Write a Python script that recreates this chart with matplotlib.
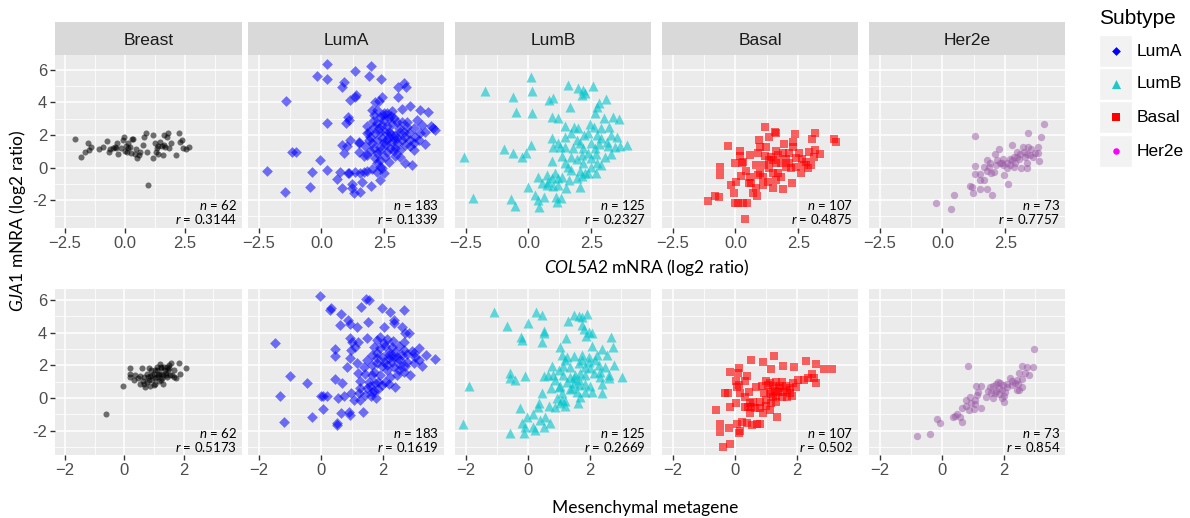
import matplotlib
matplotlib.use("Agg")
import matplotlib.pyplot as plt
from matplotlib.patches import Rectangle

plt.rcParams['font.family'] = ['Liberation Sans', 'DejaVu Sans']
plt.rcParams['mathtext.fontset'] = 'custom'
plt.rcParams['mathtext.rm'] = 'Lato'
plt.rcParams['mathtext.it'] = 'Lato:italic'

# ---- data (x, y per panel) ----
subtypes = ["Breast", "LumA", "LumB", "Basal", "Her2e"]
top_n = [62, 183, 125, 107, 73]
top_r = ["0.3144", "0.1339", "0.2327", "0.4875", "0.7757"]
bot_n = [62, 183, 125, 107, 73]
bot_r = ["0.5173", "0.1619", "0.2669", "0.502", "0.854"]

# top row: COL5A2 vs GJA1
breast_top_x = [-2.08, -1.82, -1.67, -1.53, -1.49, -1.43, -1.07, -0.93, -0.74, -0.65, -0.63, -0.49, -0.37, -0.32,
                -0.28, -0.18, -0.10, -0.04, 0.0, 0.04, 0.14, 0.21, 0.24, 0.28, 0.35, 0.40, 0.46, 0.49, 0.56, 0.74,
                0.79, 0.88, 0.90, 0.97, 1.15, 1.18, 1.25, 1.29, 1.35, 1.39, 1.46, 1.53, 1.57, 1.60, 1.63, 1.68,
                1.74, 1.78, 1.81, 2.13, 2.26, 2.29, 2.36, 2.43, 2.54, 2.67, -0.42, 0.14, 0.63, 1.32, 1.90, 0.07]
breast_top_y = [1.73, 0.63, 0.97, 1.53, 1.08, 1.28, 1.12, 1.24, 1.63, 0.97, 1.12, 1.18, 1.22, 1.53,
                0.81, 1.22, 1.69, 1.86, 1.04, 1.32, 1.53, 1.28, 0.87, 1.73, 1.73, 0.81, 1.14, 0.56, 0.79, 1.38,
                1.90, 2.10, 0.97, -1.08, 2.00, 0.56, 1.49, 0.97, 1.34, 0.83, 1.59, 1.32, 0.77, 2.02, 1.38, 1.24,
                1.86, 2.10, 1.22, 0.75, 2.10, 1.59, 1.69, 1.18, 1.14, 1.28, 1.28, 1.18, 0.97, 1.18, 1.49, 0.97]

luma_top_x = [0.20, 1.35, 1.98, -0.17, 0.22, 1.88, 2.37, 0.89, 0.81, 3.29, 3.03, 3.36, -1.39, 1.39, 1.35, 1.12,
              2.41, 2.28, 2.14, 3.04, 2.01, 3.50, 3.20, 3.93, 4.22, 1.04, 1.08, 0.99, 0.22, 2.21, 2.50, 2.61,
              2.77, 2.87, 2.34, 2.45, 2.67, 2.05, 2.21, 2.41, 2.61, 2.80, 3.00, 1.81, 3.40, 3.66, 3.80, 3.99,
              4.35, 4.52, 4.43, 4.13, 3.93, 4.13, 3.73, 3.66, 3.66, 3.86, 3.53, 3.33, 3.13, 2.94, 2.74, 2.54,
              2.34, 2.14, 1.94, 1.79, 1.88, 2.01, 2.21, 2.41, 2.61, 2.80, 3.00, 3.20, 3.33, 3.13, 2.94, 2.74,
              2.54, 2.34, 1.15, 1.48, 0.82, 0.91, 1.48, 1.81, 2.21, 2.14, 2.21, 2.34, 2.54, 2.67, 2.94, 3.13,
              3.33, 3.60, -1.16, -1.03, -0.04, -2.18, -0.38, 0.22, 1.04, 1.08, 1.35, 1.55, 1.68, 1.81, 2.01,
              2.21, 2.41, 2.47, 0.60, 1.22, 1.61, 1.97, 2.34, -0.44, 0.82, 1.22, 1.31, 1.52, -1.43,
              2.08, 2.28, 2.48, 2.67, 2.87, 3.07, 3.27, 3.47, 2.34, 2.50, 2.67, 2.08, 1.94, 2.87, 3.00, 3.53,
              3.40, 2.80, 2.08, 1.88, 1.48, 1.75, 1.68, 1.00, 0.75, 2.34, 2.60, 3.20]
luma_top_y = [6.35, 5.96, 6.25, 5.63, 5.43, 5.63, 5.47, 5.28, 4.97, 5.18, 4.93, 4.93, 4.11, 4.46, 4.36, 4.15,
              4.36, 4.11, 4.05, 4.36, 3.54, 3.78, 3.58, 3.54, 3.42, 3.13, 2.92, 2.76, 2.76, 3.54, 3.37, 3.33,
              3.17, 3.03, 3.09, 3.23, 3.03, 2.88, 2.72, 2.62, 2.55, 2.68, 2.82, 2.55, 2.51, 2.41, 2.92, 2.62,
              2.55, 2.31, 2.41, 2.21, 2.10, 1.45, 1.90, 1.49, 1.08, 1.69, 1.69, 1.90, 2.21, 2.00, 2.10, 2.21,
              2.21, 2.10, 1.90, 2.10, 1.69, 1.49, 1.69, 1.79, 1.69, 1.59, 1.49, 1.69, 1.38, 1.08, 1.18, 1.18,
              1.38, 1.28, 1.69, 1.49, 1.36, 0.87, 0.97, 0.77, 0.87, 0.56, 0.26, 0.46, 0.67, 0.36, 0.71, 0.67,
              0.26, 0.15, 0.97, 0.97, 0.46, -0.22, -0.26, -0.15, -0.32, -0.32, -0.26, -0.32, -0.26, -0.19, -0.11,
              -0.26, -0.05, -0.36, -0.73, -1.02, -0.87, -1.12, -0.77, -1.22, -1.28, -1.28, -1.55, -1.49, -1.53,
              3.20, 2.40, 2.90, 2.20, 1.80, 2.40, 2.20, 2.10, 1.00, 1.60, 1.90, 1.20, 1.00, 1.00, 1.80, 1.30,
              2.80, 3.50, 2.50, 2.20, 1.60, 1.30, 0.70, 1.30, -0.25, 0.05, 0.95, 2.80]

lumb_top_x = [0.11, -1.74, -0.63, 0.16, -0.50, 0.16, 1.58, 1.95, 2.17, 2.13, 2.24, 2.57, 3.09, 2.79, 2.74, 0.82,
              0.99, 1.64, 0.92, 1.16, 1.47, 1.82, 2.63, 2.99, 3.36, 3.58, 2.61, 2.89, 3.22, 1.71, 2.21, 2.37,
              2.74, 3.53, 3.92, 0.92, 0.96, 1.25, 1.47, 1.78, 2.04, 2.50, 2.79, 3.13, 3.45, 3.63, -0.99, -0.63,
              -0.26, -0.11, 0.11, -2.55, 0.95, 1.34, 1.71, 2.11, 2.37, 2.70, 3.03, 3.29, 1.45, 1.68, 2.04, 2.24,
              2.50, 2.74, 2.89, 0.37, 0.72, 0.92, 1.16, 1.34, 1.61, 1.91, 2.11, 0.00, 0.53, 0.72, 0.99, 1.18,
              1.51, 2.04, 0.26, 0.39, 0.42, 0.63, 1.08, 1.29, 1.12, -2.21, -0.68, -0.55,
              1.91, 2.17, 2.63, 2.89, 2.50, 1.91, 2.17, 2.70, 2.37, 1.58, 1.05, 0.79, 1.45, 1.97, 2.43, 3.16,
              3.29, 1.18]
lumb_top_y = [5.55, 4.73, 4.32, 4.73, 3.44, 3.33, 5.08, 4.87, 4.77, 4.46, 4.56, 5.02, 4.19, 3.95, 3.70, 4.15,
              4.26, 3.74, 3.09, 3.03, 2.55, 2.51, 3.33, 3.03, 3.09, 2.98, 2.51, 2.41, 2.51, 2.10, 2.00, 2.10,
              2.00, 1.90, 1.38, 1.79, 1.28, 1.28, 1.28, 1.18, 1.49, 1.49, 1.45, 1.59, 1.28, 1.32, 1.12, 0.87,
              0.67, 0.91, 1.38, 0.63, 0.42, 0.71, 0.67, 0.77, 0.87, 0.83, 0.67, 0.83, 0.26, -0.15, -0.19, -0.36,
              0.05, 0.26, 0.15, -0.56, -0.46, -0.67, -0.67, -0.56, -0.77, -0.67, -0.52, -1.22, -0.97, -1.08, -1.14, -1.08,
              -1.28, -1.18, -1.69, -2.00, -2.45, -1.79, -1.83, -1.90, -2.10, -1.90, -1.96, -2.37,
              1.70, 1.20, 1.20, 1.80, 0.60, 0.50, 0.30, -0.36, -0.36, 0.05, -0.36, -0.87, 1.90, 2.40, 2.70, 1.30,
              2.00, 1.50]

basal_top_x = [1.19, 1.58, 1.62, 1.32, 0.93, 2.37, 3.15, 3.05, 1.94, 2.28, 3.90, 3.99, -0.29, 0.17, 0.56, 0.17,
               -0.03, 0.30, 0.89, 1.19, 1.41, 1.50, 1.71, 2.00, 2.13, 2.39, 2.66, 2.79, 3.02, 3.12, 3.34, -0.62,
               -0.62, 0.20, 0.41, 0.80, 0.96, 0.89, 1.15, 1.35, 1.50, 1.71, 1.81, 2.00, 2.20, 2.39, 2.59, 2.89,
               -0.16, -0.07, 0.54, 0.63, 0.80, 1.09, 1.50, 1.87, 2.24, -0.81, -0.64, -1.11, -0.03, 0.10, 0.30,
               0.46, 0.85, 0.37,
               1.35, 1.61, 1.81, 1.87, 2.13, 2.52, 2.72, 0.56, 0.24, 1.09, 1.61, 1.28, 0.96, 1.61, 2.92, 3.18,
               2.28, 0.04, 0.69, 1.22]
basal_top_y = [2.51, 2.21, 2.10, 1.86, 1.69, 2.06, 2.10, 1.73, 1.45, 1.59, 1.73, 1.59, 1.32, 1.04, 0.77, 0.71,
               0.30, 0.36, 0.87, 0.71, 0.67, 0.46, 0.77, 0.50, 0.26, 0.56, 0.50, 0.36, 0.15, 0.67, 0.83, 0.05,
               -0.46, -0.52, -0.19, 0.15, -0.32, -0.46, 0.15, -0.05, -0.36, -0.36, -0.56, 0.05, -0.05, 0.05, -0.36, -0.05,
               -1.08, -1.55, -0.93, -0.93, -1.28, -1.08, -1.28, -1.34, -0.97, -1.75, -1.83, -2.04, -2.16, -2.21, -2.16,
               -2.16, -1.75, -3.19,
               0.46, 0.26, 0.26, 0.87, 0.87, 0.87, 0.15, -0.56, 0.26, -0.56, -0.77, -0.87, 1.28, 1.00, 0.97, 1.08,
               1.28, -0.87, -1.59, 1.28]

her2e_top_x = [4.02, 3.40, 3.90, 1.31, 2.75, 3.21, 3.80, 2.09, 2.26, 1.77, 1.83, 2.13, 2.36, 2.55, 2.75, 2.95,
               3.08, 3.23, 3.34, 3.47, 3.60, 3.84, 3.36, 3.14, 3.36, 2.84, 2.55, 2.40, 1.31, 1.31, 1.48, 1.77,
               2.03, 2.45, 1.48, 1.64, 1.92, 2.62, 1.09, 1.18, 1.48, 1.77, 1.96, 1.22, 0.46, -0.26, 0.35,
               2.68, 2.88, 3.04, 2.42, 3.27, 3.53, 3.66, 3.40, 2.29, 2.68, 1.66, 2.16, 1.90, 2.95, 2.84, 3.80]
her2e_top_y = [2.68, 2.10, 1.90, 1.94, 1.38, 1.28, 1.24, 0.83, 1.12, 0.46, 0.05, 0.15, 0.26, 0.30, 0.46, 0.63,
               0.83, 0.97, 0.83, 0.77, 0.67, 0.42, 0.26, -0.05, -0.05, 0.05, -0.05, 0.15, 0.09, -0.40, -0.40, -0.19,
               -0.26, -0.46, -0.77, -0.77, -0.36, -1.02, -1.14, -1.18, -1.34, -1.34, -1.69, -1.59, -1.69, -2.16, -2.57,
               0.50, 0.26, 0.50, 0.50, 0.67, 1.12, 0.87, 1.28, 0.26, 0.15, 0.05, 0.46, 0.30, 0.97, 0.67, 0.91]

# bottom row: mesenchymal metagene vs GJA1
breast_bot_x = [-0.61, -0.05, 0.20, 0.20, 0.20, 0.37, 0.45, 0.60, 0.66, 0.68, 0.71, 0.77, 0.83, 0.86, 0.88, 0.94,
                1.00, 1.02, 1.05, 1.11, 1.13, 1.17, 1.20, 1.22, 1.25, 1.28, 1.30, 1.34, 1.36, 1.39, 1.43, 1.45,
                1.47, 1.51, 1.54, 1.59, 1.62, 1.68, 1.73, 1.85, 1.88, 2.07, 0.52, 0.32, 0.75, 0.91, 0.83, 1.09,
                1.31, 1.17, 1.00, 0.54, 0.94, 1.11, 1.42, 1.51, 1.25, 0.63, 0.79, 1.05, 1.68, 1.22]
breast_bot_y = [-0.96, 0.74, 1.84, 1.49, 1.25, 1.39, 1.19, 1.80, 1.29, 0.84, 0.68, 0.98, 1.82, 1.33, 0.72, 1.12,
                1.49, 1.19, 0.88, 1.70, 1.39, 1.04, 2.06, 1.90, 1.49, 1.19, 0.88, 1.92, 1.70, 1.39, 1.25, 1.90,
                1.70, 2.00, 1.39, 2.13, 1.39, 1.29, 1.19, 2.13, 1.45, 1.80, 1.33, 1.08, 1.49, 1.70, 1.08, 1.92,
                1.39, 1.49, 0.78, 0.88, 1.39, 1.25, 1.53, 1.80, 1.80, 1.04, 1.25, 1.70, 1.70, 1.08]

luma_bot_x = [-0.02, 0.32, 0.30, 1.47, 1.55, 1.30, 0.64, 1.97, 2.24, 2.69, 1.51, 0.87, 0.94, 0.62, 1.17, 2.35,
              2.37, 2.03, 2.61, 2.72, 2.83, -1.47, 0.45, 0.45, 0.94, 1.01, 1.19, 1.49, 1.81, 1.92, 2.15, 2.32,
              2.69, 1.71, 1.90, 2.08, 2.29, 2.51, 2.67, 2.77, 2.93, 3.18, 3.04, 3.15, 3.25, 3.39, 3.68, 1.81,
              2.00, 2.19, 2.37, 2.54, 0.94, 1.17, 0.85, 1.41, 1.65, 1.81, 1.97, 2.13, 2.35, 2.51, 2.69, 2.88,
              2.72, 1.19, 1.44, 1.65, 1.92, 2.24, 2.45, -0.98, -0.45, 0.45, 0.69, 1.28, 1.55, 1.76, 1.97, 2.21,
              2.40, 1.49, 1.71, 1.83, -1.30, 0.00, 0.09, 0.19, 0.09, 0.55, 0.75, 0.98, 1.23, 1.44, 1.62, 1.79,
              1.07, 1.28, 1.65, 0.64, 0.91, 1.37, 0.94, -0.27, -1.17, 0.53, 0.51,
              2.03, 2.19, 2.40, 2.03, 2.29, 2.13, 1.81, 1.65, 2.56, 2.77, 2.99, 2.08, 1.86, 1.60, 1.28, 2.19,
              2.45, 2.61, 2.99, 1.71, 1.49, 1.12, 0.96]
luma_bot_y = [6.25, 5.49, 5.39, 6.04, 6.00, 5.59, 5.14, 5.49, 5.28, 5.39, 4.67, 4.77, 4.53, 4.47, 4.36, 4.77,
              4.61, 4.36, 4.36, 4.00, 4.00, 3.34, 2.97, 2.56, 3.65, 3.44, 3.44, 3.65, 3.55, 3.71, 3.59, 3.51,
              3.44, 3.14, 3.03, 3.18, 3.10, 3.18, 2.93, 2.69, 2.89, 3.03, 2.52, 2.32, 1.95, 2.63, 2.36, 2.73,
              2.52, 2.42, 2.52, 2.32, 2.42, 2.11, 1.91, 1.87, 2.01, 2.11, 1.95, 1.71, 1.87, 1.71, 1.60, 1.40,
              1.95, 1.50, 1.46, 1.40, 1.40, 1.30, 1.40, 1.34, 0.89, 1.13, 0.89, 1.05, 0.99, 0.89, 0.79, 0.85,
              0.68, 0.58, 0.43, 0.52, 0.10, 0.10, 0.10, 0.10, -0.66, 0.00, 0.14, 0.29, 0.29, 0.18, 0.14, 0.02,
              -0.16, -0.10, 0.39, -0.95, -0.85, -0.85, -1.05, -1.16, -1.46, -1.57, -1.67,
              3.34, 2.84, 2.84, 2.21, 2.21, 2.00, 2.42, 2.63, 2.00, 2.21, 2.11, 1.00, 1.00, 0.70, 0.60, 2.63,
              2.52, 2.63, 2.73, 1.60, 2.32, 3.14, 2.93]

lumb_bot_x = [-1.08, 0.26, 0.45, -0.68, 0.00, 0.54, 0.51, -0.22, -0.19, 0.47, 1.29, 1.48, 1.64, 1.75, 1.91, 1.76,
              1.80, 1.96, 2.07, 1.88, 1.23, 2.69, 2.74, 2.39, 2.56, 2.07, 1.05, 1.10, 1.26, 1.48, 1.75, 1.96,
              2.18, 2.31, 2.50, 2.77, 0.78, 1.00, 1.15, 1.37, 1.64, 1.85, 2.02, 0.51, 0.67, 0.83, 1.15, 1.37,
              1.53, 1.69, 1.85, 2.12, 2.34, 2.61, 2.63, 3.04, -0.57, -0.57, -0.41, -0.09, -1.90, 0.75, 1.00, 1.26,
              1.48, 1.64, 1.85, 2.02, 2.39, 2.39, 0.45, 1.12, 1.37, 1.69, 0.94, 0.35, 0.32, 0.69, 1.05, 1.21,
              1.62, 1.19, -0.25, 0.18, -0.19, -0.09, 0.18, 0.24, 0.54, 0.72, -0.11, -0.57, -2.08,
              1.42, 1.59, 1.48, 1.64, 1.85, 2.07, 1.10, 0.88, 0.56, 0.40, -0.03, 1.75, 1.96, 2.23, 2.34, 0.88,
              1.21, 1.05]
lumb_bot_y = [5.28, 5.28, 5.08, 4.40, 4.57, 4.12, 4.00, 3.75, 3.55, 3.44, 4.73, 5.08, 5.02, 4.94, 5.14, 4.47,
              4.20, 4.06, 3.95, 3.79, 3.65, 3.71, 3.10, 2.97, 2.63, 3.18, 3.10, 2.63, 2.52, 2.56, 2.63, 2.52,
              2.32, 2.01, 1.91, 2.01, 1.95, 1.71, 1.95, 1.91, 2.11, 1.91, 1.81, 1.34, 1.40, 1.40, 1.40, 1.30,
              1.40, 1.50, 1.40, 1.50, 1.60, 1.40, 1.19, 1.30, 1.50, 1.19, 1.09, 1.34, 0.72, 0.58, 0.64, 0.99,
              0.93, 0.78, 0.85, 0.72, 0.85, 0.31, 0.31, 0.27, 0.52, 0.06, 0.02, -0.30, -0.54, -0.50, -0.30, -0.18,
              -0.34, -0.50, -0.65, -1.00, -1.57, -1.81, -1.81, -1.98, -1.81, -1.57, -2.14, -2.14, -1.61,
              0.58, 0.37, 1.19, 1.09, 0.37, 0.37, -0.14, -0.54, -1.16, -1.36, -1.16, 2.32, 2.21, 2.63, 1.30, 1.09,
              2.32, 0.70]

basal_bot_x = [0.54, 0.91, 1.26, 1.57, 1.18, 1.90, 2.31, 2.61, 2.87, 3.12, 0.14, 0.11, -0.14, 0.40, 0.32, 0.03,
               2.50, 2.54, 2.37, 2.23, 2.63, 1.99, -0.32, -0.22, 0.08, 0.14, 0.46, 0.70, 0.89, 1.02, 1.15, 1.32,
               1.45, 1.65, 1.77, 0.94, 1.13, 1.29, 1.34, 1.51, 1.69, 1.83, 0.05, 0.32, 0.43, 0.54, 0.65, 0.81,
               1.00, 1.18, 1.32, 1.37, -0.59, -0.46, -0.48, -0.18, 0.08, 0.18, 0.14, 0.40, 0.57, 0.72, 0.81,
               -0.38, -0.14,
               1.08, 1.24, 1.40, 1.56, 1.67, 1.22, 1.02, 0.81, 0.59, 0.48, 0.91, 1.13, 1.43, 1.18, 1.51, 1.77,
               1.88, 2.04, 0.16, 0.32, -0.16, 0.48, 0.22]
basal_bot_y = [2.32, 2.22, 2.56, 1.95, 1.75, 1.91, 2.28, 2.07, 1.75, 1.75, 1.81, 1.54, 1.60, 1.34, 1.05, 1.05,
               1.46, 1.22, 1.19, 1.09, 0.93, 0.64, 0.27, 0.31, 0.68, 0.78, 0.37, 0.68, 0.72, 1.05, 0.93, 0.99,
               0.72, 0.72, 0.58, 0.31, 0.37, 0.43, 0.14, 0.04, 0.04, 0.14, -0.30, -0.54, -0.54, -0.54, -0.65, -0.65,
               -0.50, -0.30, -0.24, -1.16, -0.75, -1.61, -2.08, -1.87, -1.61, -2.02, -2.18, -1.57, -1.67, -1.61, -1.61,
               -3.04, -2.83,
               0.80, 0.70, 0.37, 0.37, 0.48, 0.04, -0.14, -0.24, -0.24, -0.34, -0.95, -0.75, 0.58, 0.23, 0.99, 0.27,
               0.89, 1.09, 0.27, 0.06, -0.54, -0.95, -1.46]

her2e_bot_x = [2.96, 0.86, 2.60, 2.75, 2.94, 2.81, 2.49, 2.60, 2.19, 2.35, 2.25, 2.46, 2.57, 2.49, 1.10, 1.28,
               1.18, 1.50, 1.66, 1.76, 1.87, 1.98, 2.09, 1.84, 1.74, 1.60, 1.44, 1.66, 1.84, 2.00, 2.00, 0.78,
               0.91, 0.93, 1.07, 0.78, 0.67, 0.89, 1.04, 1.28, 0.50, 0.37, 0.43, 0.67, -0.14, -0.05, -0.37, -0.80,
               1.93, 2.09, 2.27, 2.41, 1.57, 1.71, 1.93, 1.07, 1.15, 0.59, 2.68, 2.41, 1.82, 2.03]
her2e_bot_y = [2.97, 1.95, 1.95, 1.87, 1.91, 1.40, 1.50, 1.13, 1.19, 0.93, 0.79, 0.85, 0.68, 0.48, 0.72, 0.72,
               0.37, 0.43, 0.72, 0.85, 0.89, 0.79, 0.64, 0.58, 0.43, 0.27, 0.06, 0.02, 0.23, 0.10, -0.24, -0.10,
               0.06, -0.34, -0.38, -0.50, -0.65, -0.75, -0.71, -0.59, -1.00, -1.16, -1.12, -1.46, -1.32, -1.53, -2.22, -2.34,
               0.48, 0.85, 1.05, 1.09, 0.64, 0.31, 0.02, -0.14, 0.16, -1.16, 1.50, 0.48, 0.99, 0.37]

top_x = [breast_top_x, luma_top_x, lumb_top_x, basal_top_x, her2e_top_x]
top_y = [breast_top_y, luma_top_y, lumb_top_y, basal_top_y, her2e_top_y]
bot_x = [breast_bot_x, luma_bot_x, lumb_bot_x, basal_bot_x, her2e_bot_x]
bot_y = [breast_bot_y, luma_bot_y, lumb_bot_y, basal_bot_y, her2e_bot_y]

# ---- styling ----
colors = ['black', '#0000FF', '#00C5CD', '#FF0000', '#9A5AA6']
alphas = [0.55, 0.55, 0.6, 0.6, 0.5]
markers = ['o', 'D', '^', 's', 'o']
sizes = [19, 30, 52, 38, 28]

W, H = 1190, 518
panel_lr = [(55, 242), (248, 444), (455, 651), (662, 858), (869, 1065)]


def rect(l, t, r, b):
    return [l / W, 1 - b / H, (r - l) / W, (b - t) / H]


def style_panel(ax, xlim, ylim, xmaj, xmin, ylab):
    ax.set_facecolor('#EBEBEB')
    for s in ax.spines.values():
        s.set_visible(False)
    ax.set_xlim(*xlim)
    ax.set_ylim(*ylim)
    ax.set_xticks(xmaj)
    ax.set_xticks(xmin, minor=True)
    ax.set_yticks([-2, 0, 2, 4, 6])
    ax.set_yticks([-3, -1, 1, 3, 5], minor=True)
    ax.grid(True, which='major', color='white', linewidth=1.1)
    ax.grid(True, which='minor', color='white', linewidth=0.55)
    ax.set_axisbelow(True)
    ax.tick_params(which='minor', length=0)
    ax.tick_params(which='major', length=3.5, width=1.0, color='#333333',
                   labelsize=12, labelcolor='#4D4D4D', pad=2)
    if not ylab:
        ax.tick_params(axis='y', which='both', length=0, labelleft=False)


fig = plt.figure(figsize=(W / 100, H / 100), dpi=100)

top_xlim, top_ylim = (-2.92, 4.87), (-3.72, 6.92)
bot_xlim, bot_ylim = (-2.34, 3.97), (-3.5, 6.67)

for i, name in enumerate(subtypes):
    l, r = panel_lr[i]
    # strip
    sax = fig.add_axes(rect(l, 22, r, 55))
    sax.set_facecolor('#D9D9D9')
    sax.set_xticks([])
    sax.set_yticks([])
    for s in sax.spines.values():
        s.set_visible(False)
    sax.text(0.5, 0.45, name, ha='center', va='center', fontsize=12.5, color='#1A1A1A',
             transform=sax.transAxes)

    for row in range(2):
        if row == 0:
            ax = fig.add_axes(rect(l, 55, r, 228))
            style_panel(ax, top_xlim, top_ylim, [-2.5, 0, 2.5], [-1.25, 1.25, 3.75], i == 0)
            ax.set_xticklabels(['\u22122.5', '0.0', '2.5'])
            xs, ys, n, rv = top_x[i], top_y[i], top_n[i], top_r[i]
        else:
            ax = fig.add_axes(rect(l, 289, r, 455))
            style_panel(ax, bot_xlim, bot_ylim, [-2, 0, 2], [-1, 1, 3], i == 0)
            ax.set_xticklabels(['\u22122', '0', '2'])
            xs, ys, n, rv = bot_x[i], bot_y[i], bot_n[i], bot_r[i]
        if i == 0:
            ax.set_yticklabels(['-2', '0', '2', '4', '6'])
        ax.scatter(xs, ys, s=sizes[i], marker=markers[i], color=colors[i],
                   alpha=alphas[i], linewidths=0, zorder=3)
        ax.text(0.975, 0.135, r'$n$ = %d' % n, ha='right', va='center', fontsize=9.5,
                family='Lato', transform=ax.transAxes, color='black')
        ax.text(0.975, 0.05, r'$r$ = %s' % rv, ha='right', va='center', fontsize=9.5,
                family='Lato', transform=ax.transAxes, color='black')

# axis titles
fig.text(647 / W, 1 - 268 / H, r'$\mathit{COL5A2}$ mNRA (log2 ratio)', ha='center', va='center',
         fontsize=12.5, family='Lato')
fig.text(645 / W, 1 - 508 / H, 'Mesenchymal metagene', ha='center', va='center',
         fontsize=12.5, family='Lato')
fig.text(18 / W, 1 - 221 / H, r'$\mathit{GJA1}$ mNRA (log2 ratio)', ha='center', va='center',
         rotation=90, fontsize=12.5, family='Lato')

# legend
leg_labels = ['LumA', 'LumB', 'Basal', 'Her2e']
leg_colors = ['#0000FF', '#20C8C8', '#FF0000', '#FF00FF']
leg_markers = ['D', '^', 's', 'o']
leg_sizes = [20, 42, 32, 22]
lax = fig.add_axes([0, 0, 1, 1], facecolor='none')
lax.set_xlim(0, W)
lax.set_ylim(H, 0)
lax.axis('off')
lax.text(1099, 19, 'Subtype', ha='left', va='center', fontsize=15)
key_top = [35, 68, 101, 135]
for k, lab in enumerate(leg_labels):
    t = key_top[k]
    lax.add_patch(Rectangle((1099, t), 33, 32, facecolor='#F2F2F2', edgecolor='white', linewidth=1))
    lax.scatter([1115.5], [t + 16], s=leg_sizes[k], marker=leg_markers[k], color=leg_colors[k],
                linewidths=0)
    lax.text(1137, t + 16, lab, ha='left', va='center', fontsize=12.5)

fig.savefig('out.png', dpi=100)
